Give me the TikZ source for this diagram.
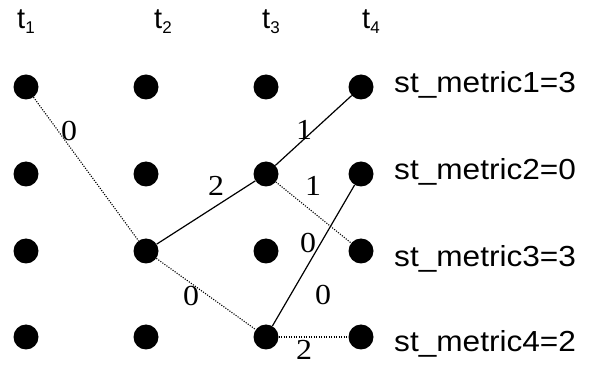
\documentclass[tikz,border=0pt]{standalone}
\usepackage{fontspec}
\setmainfont{Liberation Serif}
\setsansfont{Liberation Sans}
\usepackage{graphicx}
\newcommand{\hstr}[2]{\scalebox{#1}[1]{#2}}
\newcommand{\tsub}[1]{\raisebox{-5pt}{\fontsize{17}{20}\selectfont #1}}
\begin{document}
\begin{tikzpicture}[x=1pt,y=-1pt,
 dot/.style={circle,fill=black,inner sep=0pt,minimum size=25pt},
 solidedge/.style={line width=1.2pt},
 dotedge/.style={line width=1.1pt,dash pattern=on 1.1pt off 1.4pt},
 tlab/.style={anchor=base west,inner sep=0pt,font=\sffamily\fontsize{29}{34}\selectfont},
 metric/.style={anchor=base west,inner sep=0pt,font=\sffamily\fontsize{29}{34}\selectfont},
 wlab/.style={inner sep=0pt,font=\rmfamily\fontsize{29}{34}\selectfont}]
\useasboundingbox (0,0) rectangle (590,366);

% time labels
\node[tlab] (t1) at (17,29) {t\tsub{1}};
\node[tlab] (t2) at (154,29) {t\tsub{2}};
\node[tlab] (t3) at (262,29) {t\tsub{3}};
\node[tlab] (t4) at (362,29) {t\tsub{4}};

% dots
\foreach \c/\x in {1/26,2/146,3/266,4/361}{
  \foreach \r/\y in {1/87,2/174,3/251,4/337}{
    \node[dot] (n\c\r) at (\x,\y) {};
  }
}

% edges
\draw[dotedge] (n11) -- (n23);
\draw[dotedge] (n23) -- (n34);
\draw[solidedge] (n23) -- (n32);
\draw[solidedge] (n32) -- (n41);
\draw[dotedge] (n32) -- (n43);
\draw[solidedge] (n34) -- (n42);
\draw[dotedge] (n34) -- (n44);

% edge labels
\node[wlab] (w1) at (69,131) {\hstr{1.1}{0}};
\node[wlab] (w2) at (216,186) {\hstr{1.1}{2}};
\node[wlab] (w3) at (304,130) {\hstr{1.1}{1}};
\node[wlab] (w4) at (313,186) {\hstr{1.1}{1}};
\node[wlab] (w5) at (308,243) {\hstr{1.1}{0}};
\node[wlab] (w6) at (323,295) {\hstr{1.1}{0}};
\node[wlab] (w7) at (191,296) {\hstr{1.1}{0}};
\node[wlab] (w8) at (304,350) {\hstr{1.1}{2}};

% metrics
\node[metric] (m1) at (394,93) {\hstr{1.09}{st\_metric1=3}};
\node[metric] (m2) at (394,180) {\hstr{1.09}{st\_metric2=0}};
\node[metric] (m3) at (394,267) {\hstr{1.09}{st\_metric3=3}};
\node[metric] (m4) at (394,352) {\hstr{1.09}{st\_metric4=2}};
\end{tikzpicture}
\end{document}
